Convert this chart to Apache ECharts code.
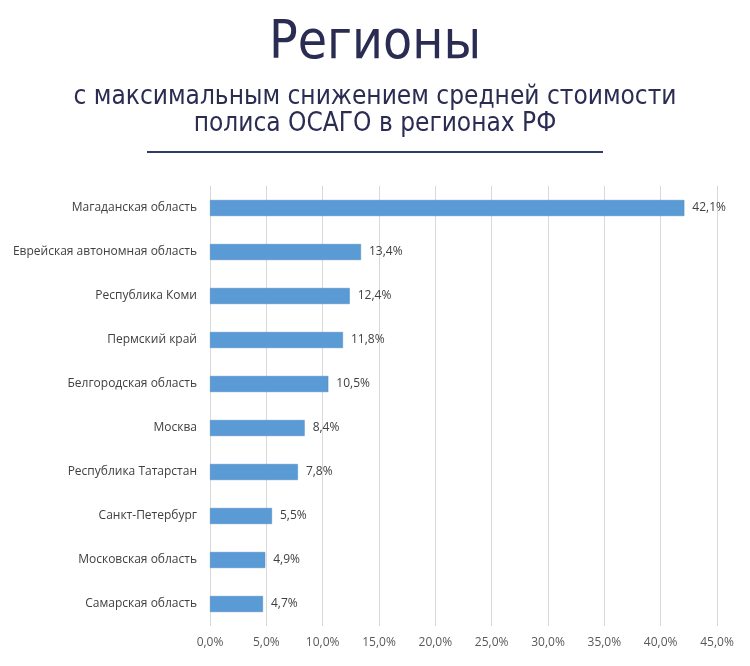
<!DOCTYPE html>
<html><head><meta charset="utf-8">
<script src="https://cdn.jsdelivr.net/npm/echarts@6/dist/echarts.min.js"></script>
<style>html,body{margin:0;padding:0;background:#fff}#c{width:750px;height:666px}</style>
</head><body><div id="c"></div>
<script>
const categories = ["Магаданская область","Еврейская автономная область","Республика Коми","Пермский край","Белгородская область","Москва","Республика Татарстан","Санкт-Петербург","Московская область","Самарская область"];
const values = [42.1,13.4,12.4,11.8,10.5,8.4,7.8,5.5,4.9,4.7];
const titleText = "Регионы";
const subtitleLines = ["с максимальным снижением средней стоимости","полиса ОСАГО в регионах РФ"];

const chart = echarts.init(document.getElementById('c'));
const fmt = v => v.toFixed(1).replace('.', ',') + '%';
chart.setOption({
  animation:false,
  title:[
    {text:titleText,left:'center',top:13,textStyle:{fontFamily:'Liberation Sans Narrow, DejaVu Sans Condensed, sans-serif',fontSize:53,fontWeight:'normal',color:'#2a2c52'}},
    {text:subtitleLines.join('\n'),left:'center',top:79,textStyle:{fontFamily:'Liberation Sans Narrow, DejaVu Sans Condensed, sans-serif',fontSize:26,fontWeight:'normal',color:'#2a2c52',lineHeight:27}}
  ],
  graphic:[{type:'line',shape:{x1:147,y1:152,x2:603,y2:152},style:{stroke:'#2f3d66',lineWidth:2}}],
  grid:{left:210,right:33,top:186,bottom:40},
  xAxis:{type:'value',min:0,max:45,interval:5,
    axisLabel:{formatter:v=>fmt(v),color:'#595959',fontSize:12,fontFamily:'Open Sans, sans-serif',margin:11},
    splitLine:{lineStyle:{color:'#d9d9d9'}},axisLine:{show:false},axisTick:{show:false}},
  yAxis:{type:'category',data:categories,inverse:true,
    axisLabel:{color:'#404040',fontSize:12,fontFamily:'Open Sans, sans-serif',margin:13},
    axisLine:{show:false},axisTick:{show:false}},
  series:[{type:'bar',data:values,barWidth:16,
    itemStyle:{color:'#5b9bd5',borderColor:'#4a86c0',borderWidth:0.5},
    label:{show:true,position:'right',distance:8,formatter:p=>fmt(p.value),color:'#404040',fontSize:12,fontFamily:'Open Sans, sans-serif'}}]
});
</script></body></html>
